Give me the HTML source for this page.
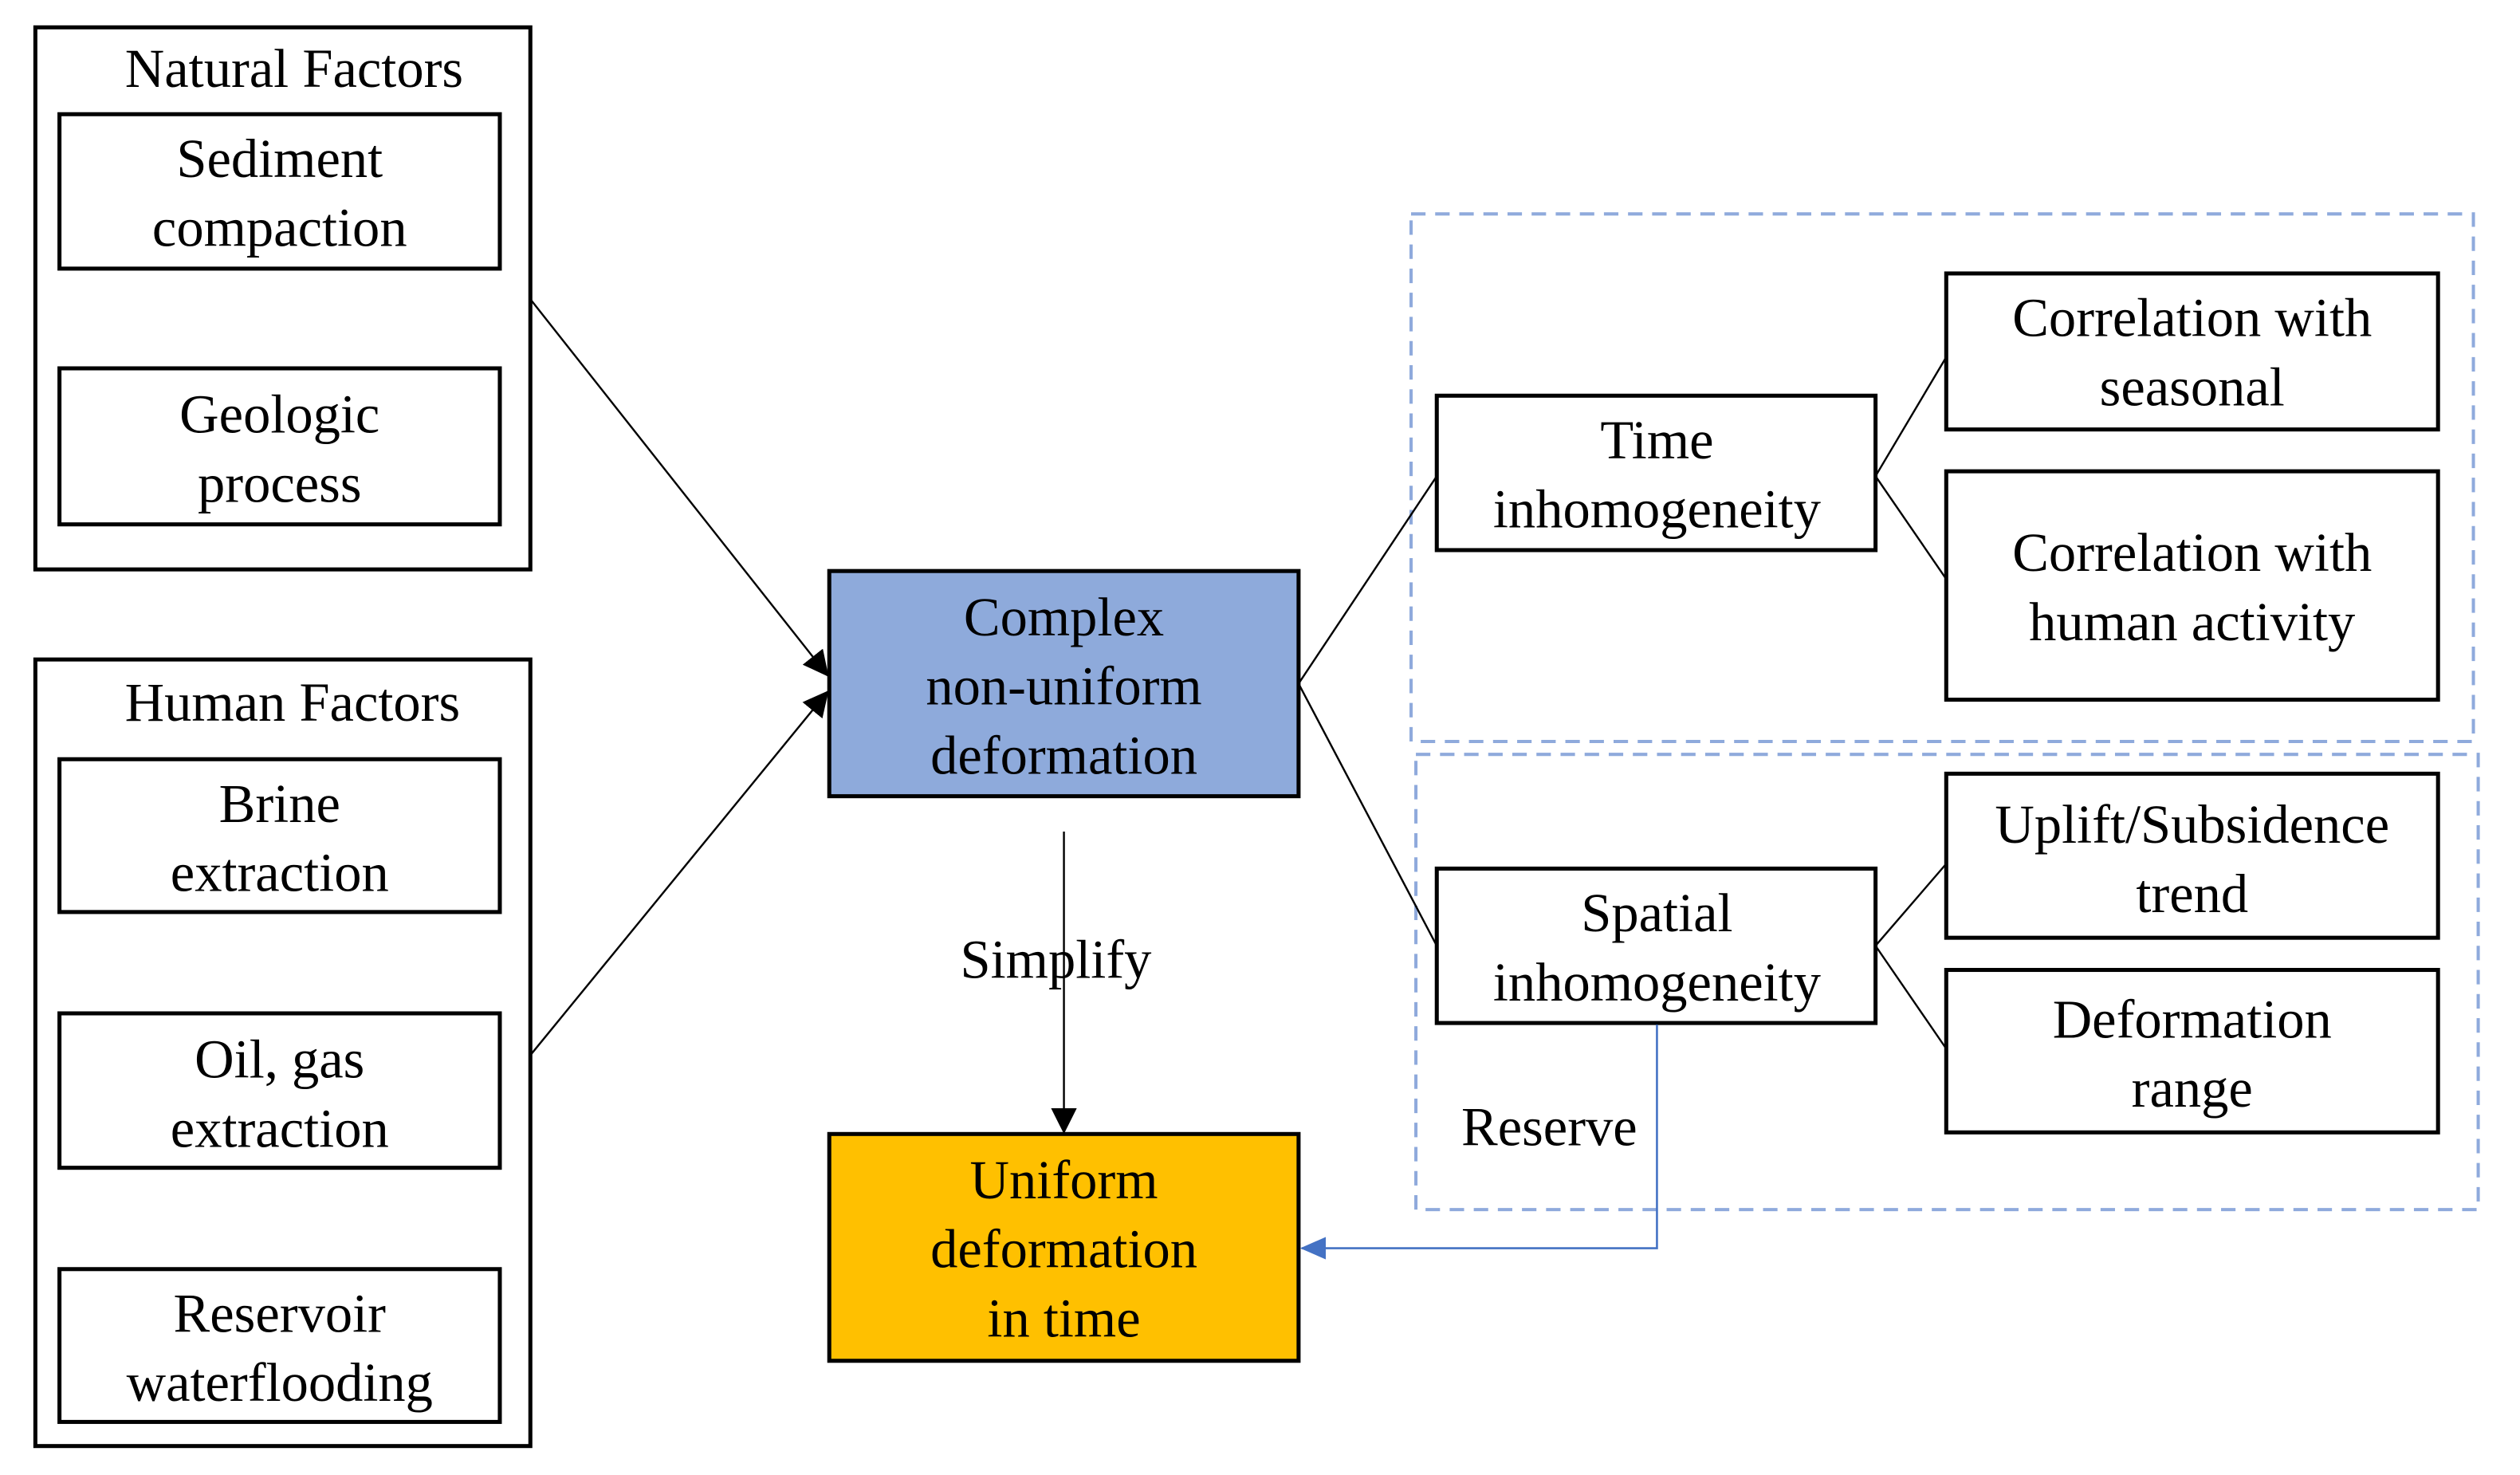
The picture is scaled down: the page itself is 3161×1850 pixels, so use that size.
<!DOCTYPE html>
<html><head><meta charset="utf-8"><style>
html,body{margin:0;padding:0;background:#fff;}
svg{display:block;}
text{font-family:"Liberation Serif",serif;font-size:34px;fill:#000;text-anchor:middle;}
</style></head><body>
<svg width="3161" height="1850" viewBox="0 0 1568 917" preserveAspectRatio="none" xmlns="http://www.w3.org/2000/svg">
<defs>
<marker id="ab2" markerWidth="16" markerHeight="16" refX="15" refY="8" orient="auto" markerUnits="userSpaceOnUse"><path d="M0,0 L16,8 L0,16 z" fill="#000"/></marker>
<marker id="abb" markerWidth="16" markerHeight="14" refX="15" refY="7" orient="auto" markerUnits="userSpaceOnUse"><path d="M0,0 L16,7 L0,14 z" fill="#4472c4"/></marker>
</defs>
<g fill="none" stroke="#8faadc" stroke-width="2" stroke-dasharray="9,6">
<rect x="878" y="133" width="661" height="328"/>
<rect x="881" y="469" width="661" height="283"/>
</g>
<g fill="none" stroke="#000" stroke-width="2.5">
<rect x="22" y="17" width="308" height="337"/>
<rect x="37" y="71" width="274" height="96"/>
<rect x="37" y="229" width="274" height="97"/>
<rect x="22" y="410" width="308" height="489"/>
<rect x="37" y="472" width="274" height="95"/>
<rect x="37" y="630" width="274" height="96"/>
<rect x="37" y="789" width="274" height="95"/>
<rect x="516" y="355" width="292" height="140" fill="#8eaadb"/>
<rect x="516" y="705" width="292" height="141" fill="#ffc000"/>
<rect x="894" y="246" width="273" height="96"/>
<rect x="894" y="540" width="273" height="96"/>
<rect x="1211" y="170" width="306" height="97"/>
<rect x="1211" y="293" width="306" height="142"/>
<rect x="1211" y="481" width="306" height="102"/>
<rect x="1211" y="603" width="306" height="101"/>
</g>
<g stroke="#000" stroke-width="1.2" fill="none">
<line x1="330" y1="186" x2="515" y2="420" marker-end="url(#ab2)"/>
<line x1="330" y1="656" x2="515" y2="430" marker-end="url(#ab2)"/>
<line x1="662" y1="517" x2="662" y2="704" marker-end="url(#ab2)"/>
<polyline points="894,296 808,425 894,588"/>
<polyline points="1211,222 1167,296 1211,360"/>
<polyline points="1211,537 1167,588 1211,652"/>
</g>
<polyline points="1031,637 1031,776 810,776" fill="none" stroke="#4472c4" stroke-width="1.3" marker-end="url(#abb)"/>
<text x="183" y="54">Natural Factors</text>
<text x="174" y="110">Sediment</text><text x="174" y="153">compaction</text>
<text x="174" y="269">Geologic</text><text x="174" y="312">process</text>
<text x="182" y="448">Human Factors</text>
<text x="174" y="511">Brine</text><text x="174" y="554">extraction</text>
<text x="174" y="670">Oil,  gas</text><text x="174" y="713">extraction</text>
<text x="174" y="828">Reservoir</text><text x="174" y="871">waterflooding</text>
<text x="662" y="395">Complex</text><text x="662" y="438">non-uniform</text><text x="662" y="481">deformation</text>
<text x="662" y="745">Uniform</text><text x="662" y="788">deformation</text><text x="662" y="831">in time</text>
<text x="657" y="608">Simplify</text>
<text x="964" y="712">Reserve</text>
<text x="1031" y="285">Time</text><text x="1031" y="328">inhomogeneity</text>
<text x="1031" y="579">Spatial</text><text x="1031" y="622">inhomogeneity</text>
<text x="1364" y="209">Correlation  with</text><text x="1364" y="252">seasonal</text>
<text x="1364" y="355">Correlation  with</text><text x="1364" y="398">human activity</text>
<text x="1364" y="524">Uplift/Subsidence</text><text x="1364" y="567">trend</text>
<text x="1364" y="645">Deformation</text><text x="1364" y="688">range</text>
</svg>
</body></html>
